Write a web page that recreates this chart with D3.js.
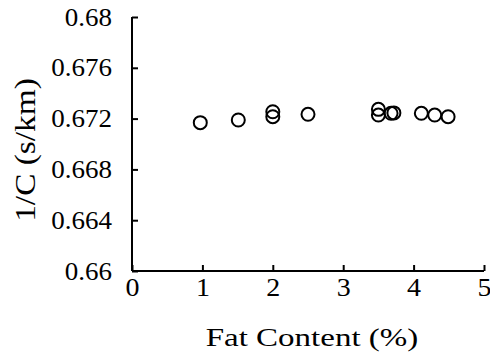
<!DOCTYPE html>
<html>
<head>
<meta charset="utf-8">
<script src="https://cdn.jsdelivr.net/npm/d3@7"></script>
<style>
  body { margin: 0; background: #fff; }
</style>
</head>
<body>
<div id="chart"></div>
<script>
var width = 490, height = 355;

var fat = [0.97, 1.51, 2.0, 2.0, 2.5, 3.5, 3.5, 3.68, 3.72, 4.11, 4.3, 4.49];
var invC = [0.67168, 0.67189, 0.67254, 0.67215, 0.67234, 0.67273, 0.67228, 0.67242, 0.67245, 0.67242, 0.67228, 0.67215];
var xTicks = [0, 1, 2, 3, 4, 5];
var yTicks = [0.66, 0.664, 0.668, 0.672, 0.676, 0.68];
var yLabels = ['0.66', '0.664', '0.668', '0.672', '0.676', '0.68'];

var svg = d3.select('#chart').append('svg')
  .attr('width', width)
  .attr('height', height);

var x = d3.scaleLinear().domain([0, 5]).range([132, 484]);
var y = d3.scaleLinear().domain([0.66, 0.68]).range([271, 17]);

var font = '"Liberation Serif", "Times New Roman", serif';

// y axis, ticks inward
var yAxis = svg.append('g')
  .attr('transform', `translate(${x(0)}, 0)`)
  .call(d3.axisLeft(y).tickValues(yTicks).tickSize(-6)
    .tickFormat((d, i) => yLabels[i]));
yAxis.select('.domain').attr('stroke-width', 2).attr('d', `M0,${y(0.68)}V${y(0.66)}`);
yAxis.selectAll('.tick line').attr('stroke-width', 2);
yAxis.selectAll('.tick text')
  .style('font-family', font).style('font-size', '25px')
  .attr('x', 0)
  .attr('transform', 'translate(-20,0) scale(1.08,1)');

// x axis, ticks inward
var xAxis = svg.append('g')
  .attr('transform', `translate(0, ${y(0.66)})`)
  .call(d3.axisBottom(x).tickValues(xTicks).tickSize(-6).tickPadding(7).tickFormat(d3.format('d')));
xAxis.select('.domain').attr('stroke-width', 2).attr('d', `M${x(0)},0H${x(5)}`);
xAxis.selectAll('.tick line').attr('stroke-width', 2);
xAxis.selectAll('.tick text')
  .style('font-family', font).style('font-size', '25px')
  .attr('transform', 'scale(1.12,1)');

// axis titles
svg.append('text')
  .attr('transform', `translate(312, 346) scale(1.27,1)`)
  .attr('text-anchor', 'middle')
  .style('font-family', font)
  .style('font-size', '26px')
  .text('Fat Content (%)');

svg.append('text')
  .attr('transform', `translate(35, 150) rotate(-90) scale(1.15,1)`)
  .attr('text-anchor', 'middle')
  .style('font-family', font)
  .style('font-size', '29px')
  .text('1/C (s/km)');

// points
svg.append('g').selectAll('circle')
  .data(fat)
  .join('circle')
  .attr('cx', d => x(d))
  .attr('cy', (d, i) => y(invC[i]))
  .attr('r', 6.5)
  .attr('fill', 'none')
  .attr('stroke', '#000')
  .attr('stroke-width', 2);
</script>
</body>
</html>
